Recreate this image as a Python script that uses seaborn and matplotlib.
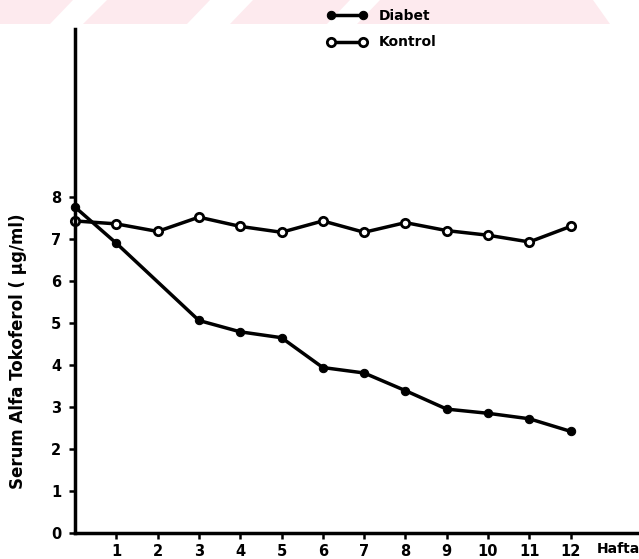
import matplotlib
matplotlib.use("Agg")
import matplotlib.pyplot as plt
from matplotlib.patches import Polygon
import seaborn as sns
import pandas as pd

# ---- data ----
diabet_weeks = [0, 1, 3, 4, 5, 6, 7, 8, 9, 10, 11, 12]
diabet_values = [7.76, 6.90, 5.06, 4.79, 4.65, 3.94, 3.81, 3.39, 2.95, 2.85, 2.72, 2.42]
kontrol_weeks = [0, 1, 2, 3, 4, 5, 6, 7, 8, 9, 10, 11, 12]
kontrol_values = [7.43, 7.36, 7.18, 7.52, 7.30, 7.16, 7.43, 7.16, 7.39, 7.20, 7.09, 6.93, 7.30]
x_ticks = [1, 2, 3, 4, 5, 6, 7, 8, 9, 10, 11, 12]
y_ticks = [0, 1, 2, 3, 4, 5, 6, 7, 8]
series_labels = ["Diabet", "Kontrol"]
y_label = "Serum Alfa Tokoferol ( μg/ml)"
x_label = "Hafta"

sns.set_style("white")
plt.rcParams["font.family"] = ["DejaVu Sans"]
plt.rcParams["font.weight"] = "bold"
plt.rcParams["text.color"] = "black"
plt.rcParams["axes.labelcolor"] = "black"
plt.rcParams["xtick.color"] = "black"
plt.rcParams["ytick.color"] = "black"

W, H = 639, 559
fig = plt.figure(figsize=(W / 100, H / 100), dpi=100)
ax = fig.add_axes([75 / W, (H - 533) / H, (W - 75) / W, (533 - 29) / H])
ax.set_zorder(5)

# faint pink watermark band at the top
band_top = 1.0
band_bot = 1 - 24 / H
def fx(px):
    return px / W
fig.patches.append(Polygon([(0, band_bot), (0, band_top), (fx(593), band_top),
                            (fx(610), band_bot)], closed=True,
                           transform=fig.transFigure, facecolor="#fdeaee",
                           edgecolor="none", zorder=-2))
for top_l, top_r, bot_l, bot_r in [(73, 107, 50, 83), (210, 253, 187, 230), (350, 380, 327, 357)]:
    fig.patches.append(Polygon([(fx(bot_l), band_bot), (fx(top_l), band_top),
                                (fx(top_r), band_top), (fx(bot_r), band_bot)],
                               closed=True, transform=fig.transFigure,
                               facecolor="white", edgecolor="none", zorder=-1))

df_d = pd.DataFrame({"week": diabet_weeks, "value": diabet_values})
df_k = pd.DataFrame({"week": kontrol_weeks, "value": kontrol_values})

sns.lineplot(data=df_d, x="week", y="value", ax=ax, color="black", linewidth=2.5,
             marker="o", markersize=6, markerfacecolor="black",
             markeredgecolor="black", label=series_labels[0], clip_on=False)
sns.lineplot(data=df_k, x="week", y="value", ax=ax, color="black", linewidth=2.5,
             marker="o", markersize=6, markerfacecolor="white",
             markeredgecolor="black", markeredgewidth=2.0,
             label=series_labels[1], clip_on=False)

ax.set_xlim(0, 564 / 41.3)
ax.set_ylim(0, 12)
ax.set_xticks(x_ticks)
ax.set_xticklabels([str(t) for t in x_ticks], fontsize=10.5, fontweight="bold")
ax.set_yticks(y_ticks)
ax.set_yticklabels([str(t) for t in y_ticks], fontsize=10.5, fontweight="bold")
ax.tick_params(axis="both", direction="out", length=4, width=1.8, color="black",
               labelcolor="black", bottom=True, left=True)
ax.tick_params(axis="x", pad=4)
ax.tick_params(axis="y", pad=6)

for side in ["top", "right"]:
    ax.spines[side].set_visible(False)
for side in ["left", "bottom"]:
    ax.spines[side].set_linewidth(2.5)
    ax.spines[side].set_color("black")

ax.set_xlabel("")
ax.set_ylabel(y_label, fontsize=12, fontweight="bold", color="black")
ax.yaxis.set_label_coords(-0.085, 0.361)

ax.text((597 - 75) / 564, -0.032, x_label, transform=ax.transAxes, ha="left",
        va="center", fontsize=10, fontweight="bold", color="black", clip_on=False)

leg = ax.legend(loc="upper left", bbox_to_anchor=(327 / W, 1 - 9 / H),
                bbox_transform=fig.transFigure, frameon=False, numpoints=2,
                handlelength=2.9, handletextpad=0.8, labelspacing=0.9,
                borderpad=0, borderaxespad=0, prop={"size": 10, "weight": "bold"})
for t in leg.get_texts():
    t.set_color("black")

fig.savefig("out.png", dpi=100)
